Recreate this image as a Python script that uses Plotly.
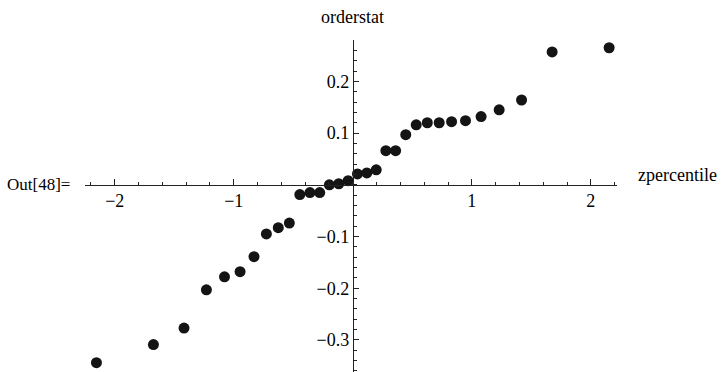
import plotly.graph_objects as go

# z-percentiles (x) and order statistics (y)
zpercentile = [-2.154, -1.675, -1.418, -1.230, -1.078, -0.947, -0.830, -0.726,
               -0.626, -0.533, -0.445, -0.360, -0.278, -0.197, -0.118, -0.039,
               0.039, 0.118, 0.197, 0.278, 0.360, 0.445, 0.533, 0.626,
               0.726, 0.830, 0.947, 1.078, 1.230, 1.418, 1.675, 2.154]
orderstat = [-0.344, -0.309, -0.277, -0.203, -0.178, -0.168, -0.139, -0.095,
             -0.083, -0.074, -0.019, -0.015, -0.015, 0.000, 0.002, 0.008,
             0.021, 0.023, 0.029, 0.066, 0.066, 0.097, 0.116, 0.120,
             0.120, 0.122, 0.124, 0.132, 0.145, 0.164, 0.257, 0.265]

x_ticks = [-2, -1, 1, 2]
x_ticktext = ["\u22122", "\u22121", "1", "2"]
y_ticks = [-0.3, -0.2, -0.1, 0.1, 0.2]
y_ticktext = ["\u22120.3", "\u22120.2", "\u22120.1", "0.1", "0.2"]

x_range = [-2.25, 2.22]
y_range = [-0.362, 0.28]

FONT = "Liberation Serif, Times New Roman, serif"

fig = go.Figure()
fig.add_trace(go.Scatter(
    x=zpercentile, y=orderstat, mode="markers",
    marker=dict(size=11, color="#141414", line=dict(width=0)),
    hoverinfo="skip",
))

x_pos = (0 - y_range[0]) / (y_range[1] - y_range[0])
y_pos = (0 - x_range[0]) / (x_range[1] - x_range[0])

fig.update_layout(
    width=722, height=372,
    margin=dict(l=85, r=105, t=40, b=0),
    paper_bgcolor="white", plot_bgcolor="white",
    showlegend=False,
    font=dict(family=FONT, size=18, color="black"),
    xaxis=dict(
        range=x_range, showgrid=False, zeroline=False,
        showline=True, linecolor="#222", linewidth=1,
        anchor="free", position=x_pos, side="bottom",
        tickmode="array", tickvals=x_ticks, ticktext=x_ticktext,
        ticks="inside", ticklen=6, tickwidth=1, tickcolor="#222",
        ticklabelstandoff=0,
        minor=dict(tickmode="linear", tick0=0, dtick=0.2, ticks="inside",
                   ticklen=3, tickwidth=1, tickcolor="#222"),
        tickfont=dict(family=FONT, size=18, color="black"),
    ),
    yaxis=dict(
        range=y_range, showgrid=False, zeroline=False,
        showline=True, linecolor="#222", linewidth=1,
        anchor="free", position=y_pos, side="left",
        tickmode="array", tickvals=y_ticks, ticktext=y_ticktext,
        ticks="inside", ticklen=5, tickwidth=1, tickcolor="#222",
        minor=dict(tickmode="linear", tick0=0, dtick=0.02, ticks="inside",
                   ticklen=3, tickwidth=1, tickcolor="#222"),
        tickfont=dict(family=FONT, size=18, color="black"),
    ),
)

fig.add_annotation(text="orderstat", xref="x", x=0, yref="paper", y=1,
                   xanchor="center", yanchor="middle", yshift=23,
                   showarrow=False, font=dict(family=FONT, size=18))
fig.add_annotation(text="zpercentile", xref="paper", x=1, yref="y", y=0,
                   xanchor="left", yanchor="middle", xshift=19, yshift=10,
                   showarrow=False, font=dict(family=FONT, size=18))
fig.add_annotation(text="Out[48]=", xref="paper", x=0, yref="y", y=0,
                   xanchor="right", yanchor="middle", xshift=-13, yshift=0,
                   showarrow=False, font=dict(family=FONT, size=17))

fig.write_html("out.html",
               config={"displayModeBar": False},
               post_script="document.body.style.margin='0';"
                           "document.body.style.overflow='hidden';")
